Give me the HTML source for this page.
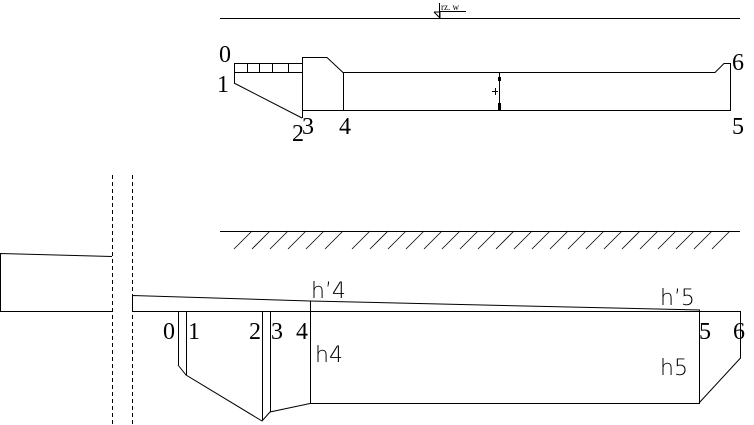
<!DOCTYPE html>
<html><head><style>body{margin:0;background:#fff}svg{display:block}</style></head><body>
<svg width="754" height="425" viewBox="0 0 754 425" xmlns="http://www.w3.org/2000/svg">
<g stroke="#000" stroke-width="1" fill="none">
<line x1="220" y1="18.5" x2="740" y2="18.5"/>
<line x1="439.5" y1="3" x2="439.5" y2="18"/>
<polyline points="434,12 440,18 440,12 434,12"/>
<line x1="439" y1="11.5" x2="466" y2="11.5"/>
<rect x="234.5" y="63.5" width="68" height="9"/>
<line x1="247.5" y1="63" x2="247.5" y2="72"/><line x1="259.5" y1="63" x2="259.5" y2="72"/>
<line x1="272.5" y1="63" x2="272.5" y2="72"/><line x1="288.5" y1="63" x2="288.5" y2="72"/>
<line x1="234.5" y1="72" x2="234.5" y2="83"/>
<line x1="234" y1="83" x2="302" y2="118"/>
<polyline points="302.5,118 302.5,57.5 327,57.5 343,72.5 715,72.5 724,63.5 730.5,63.5 730.5,110.5 302,110.5"/>
<line x1="343.5" y1="72" x2="343.5" y2="110"/>
<line x1="499.5" y1="72" x2="499.5" y2="110"/>
<line x1="499.5" y1="77" x2="499.5" y2="81" stroke-width="3"/>
<line x1="499.5" y1="103" x2="499.5" y2="110" stroke-width="3"/>
<line x1="492" y1="91.5" x2="498" y2="91.5"/><line x1="495.5" y1="88" x2="495.5" y2="95"/>
<line x1="220" y1="231.5" x2="740" y2="231.5"/>
</g>
<g stroke="#000" stroke-width="0.8">
<line x1="252" y1="231" x2="234" y2="249"/><line x1="270" y1="231" x2="252" y2="249"/><line x1="288" y1="231" x2="270" y2="249"/><line x1="306" y1="231" x2="288" y2="249"/><line x1="324" y1="231" x2="306" y2="249"/><line x1="343" y1="231" x2="325" y2="249"/><line x1="370" y1="231" x2="352" y2="249"/><line x1="388" y1="231" x2="370" y2="249"/><line x1="406" y1="231" x2="388" y2="249"/><line x1="424" y1="231" x2="406" y2="249"/><line x1="442" y1="231" x2="424" y2="249"/><line x1="460" y1="231" x2="442" y2="249"/><line x1="478" y1="231" x2="460" y2="249"/><line x1="496" y1="231" x2="478" y2="249"/><line x1="514" y1="231" x2="496" y2="249"/><line x1="532" y1="231" x2="514" y2="249"/><line x1="550" y1="231" x2="532" y2="249"/><line x1="568" y1="231" x2="550" y2="249"/><line x1="586" y1="231" x2="568" y2="249"/><line x1="604" y1="231" x2="586" y2="249"/><line x1="622" y1="231" x2="604" y2="249"/><line x1="640" y1="231" x2="622" y2="249"/><line x1="658" y1="231" x2="640" y2="249"/><line x1="676" y1="231" x2="658" y2="249"/><line x1="694" y1="231" x2="676" y2="249"/><line x1="712" y1="231" x2="694" y2="249"/><line x1="730" y1="231" x2="712" y2="249"/>
</g>
<g stroke="#000" stroke-width="1" fill="none">
<line x1="112.5" y1="175" x2="112.5" y2="425" stroke-dasharray="4,3"/>
<line x1="132.5" y1="175" x2="132.5" y2="425" stroke-dasharray="4,3"/>
<polyline points="0.5,311.5 0.5,253.5 112,256.5"/>
<line x1="0" y1="311.5" x2="112" y2="311.5"/>
<line x1="132" y1="311.5" x2="740" y2="311.5"/>
<polyline points="132.5,311 132.5,295.5 310,301 700,310"/>
<line x1="178.5" y1="312" x2="178.5" y2="365"/>
<line x1="186.5" y1="312" x2="186.5" y2="375"/>
<line x1="262.5" y1="312" x2="262.5" y2="420"/>
<line x1="270.5" y1="312" x2="270.5" y2="412"/>
<line x1="310.5" y1="301" x2="310.5" y2="403"/>
<polyline points="178,365 186,375 262,421 270,412 310,403.5 699.5,403.5 699.5,310"/>
<polyline points="740.5,311 740.5,358 699,403"/>
</g>
<g font-family="Liberation Serif, serif" font-size="24" fill="#000">
<text x="219" y="62">0</text><text x="217" y="92">1</text>
<text x="292" y="141">2</text><text x="302" y="134">3</text><text x="339" y="134">4</text>
<text x="732" y="70">6</text><text x="732" y="134">5</text>
<text x="163" y="339">0</text><text x="188" y="339">1</text>
<text x="249" y="339">2</text><text x="271" y="339">3</text><text x="296" y="339">4</text>
<text x="699" y="339">5</text><text x="733" y="339">6</text>
</g>
<text x="441" y="10" font-family="Liberation Serif, serif" font-size="9">rz. w</text>
<g font-family="DejaVu Sans, sans-serif" font-size="22" font-weight="200" fill="#000">
<text x="311" y="298">h’4</text><text x="660" y="305">h’5</text>
<text x="315" y="362">h4</text><text x="660" y="375">h5</text>
</g>
</svg>
</body></html>
